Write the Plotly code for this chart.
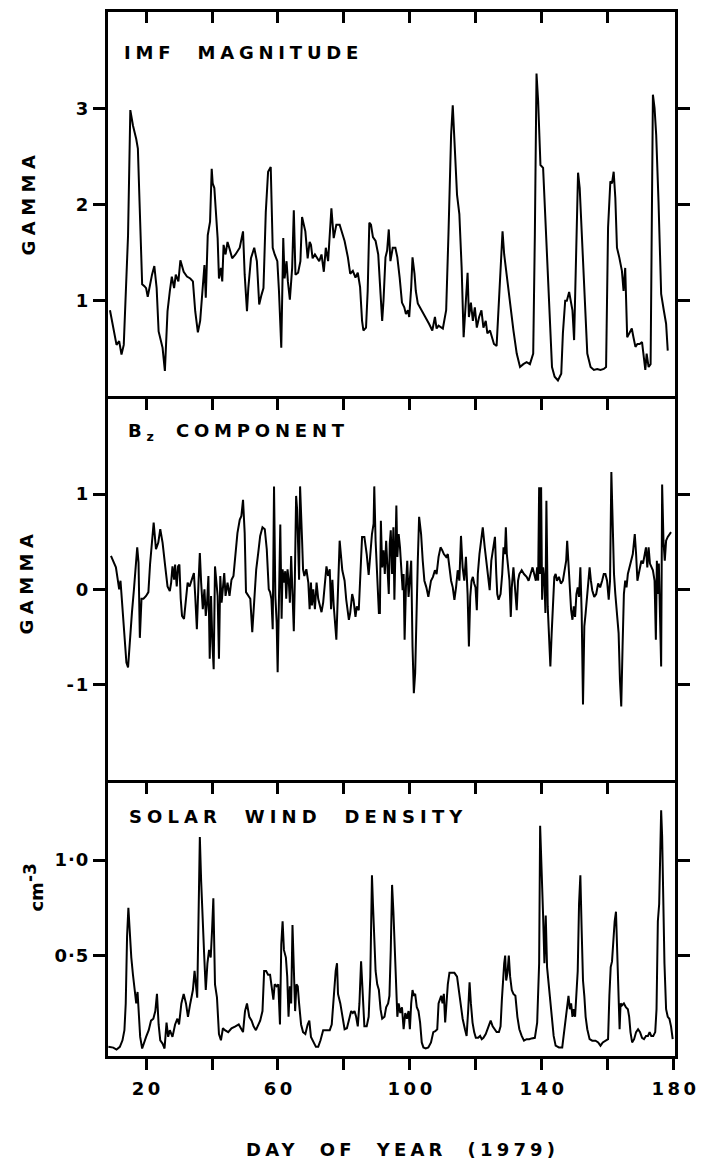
import plotly.graph_objects as go

# ---------------- data (day of year, value) ----------------
imf = [(9.05,0.90),(10.55,0.65),(11.04,0.54),(11.84,0.58),(12.54,0.44),(13.23,0.54),(13.83,0.99),(14.53,1.68),(15.22,2.98),(16.02,2.82),(17.01,2.68),(17.51,2.58),(18.01,2.03),(18.81,1.17),(19.50,1.15),(20.0,1.13),(20.5,1.04),(21.2,1.17),(21.8,1.27),(22.5,1.36),(23.2,1.13),(23.8,0.68),(24.5,0.58),(25.0,0.51),(25.7,0.27),(26.5,0.89),(27.2,1.10),(27.8,1.25),(28.5,1.13),(29.0,1.27),(29.8,1.20),(30.4,1.42),(31.4,1.30),(32.4,1.25),(33.4,1.23),(34.2,1.20),(34.9,0.89),(35.7,0.67),(36.4,0.79),(37.1,1.06),(37.7,1.37),(38.1,1.03),(38.7,1.68),(39.4,1.82),(39.9,2.37),(40.2,2.22),(40.7,2.17),(41.1,1.96),(41.7,1.65),(42.1,1.23),(42.7,1.34),(43.1,1.20),(43.5,1.58),(44.1,1.48),(44.7,1.61),(45.4,1.53),(46.1,1.44),(47.1,1.48),(48.4,1.55),(49.4,1.72),(49.9,1.27),(50.6,0.89),(51.0,1.13),(51.8,1.44),(52.8,1.55),(53.6,1.41),(54.3,0.96),(55.0,1.06),(55.6,1.13),(56.3,1.92),(57.0,2.34),(57.8,2.39),(58.4,1.55),(59.0,1.48),(59.8,1.41),(60.3,1.10),(61.0,0.51),(61.6,1.65),(62.0,1.23),(62.6,1.41),(63.0,1.20),(63.6,1.01),(64.3,1.34),(64.8,1.94),(65.3,1.27),(66.1,1.29),(66.8,1.41),(67.3,1.87),(67.8,1.79),(68.3,1.72),(69.0,1.44),(69.6,1.61),(70.0,1.58),(70.5,1.44),(71.2,1.48),(71.9,1.44),(72.5,1.41),(73.2,1.48),(73.9,1.30),(74.5,1.55),(75.2,1.41),(76.2,1.96),(76.9,1.65),(77.7,1.79),
       (78.7,1.79),(80.2,1.62),(81.2,1.45),(81.9,1.28),(82.7,1.31),(83.5,1.24),(84.2,1.29),(84.9,1.14),(85.5,0.79),(85.9,0.69),(86.7,0.72),(87.2,1.10),(87.7,1.81),(88.2,1.79),(88.8,1.66),(89.6,1.62),(90.4,1.48),(91.1,1.07),(91.6,0.79),(92.0,1.00),(92.6,1.45),(93.1,1.52),(93.6,1.74),(94.1,1.41),(94.8,1.55),(95.6,1.55),(96.2,1.45),(96.9,1.24),(97.6,0.98),(98.3,0.93),(98.8,0.86),(99.4,0.90),(99.8,0.83),(100.4,1.14),(100.8,1.45),(101.4,1.28),(101.8,1.10),(102.4,0.97),(103.6,0.90),(104.6,0.83),(105.8,0.76),(106.8,0.69),(107.6,0.83),(108.1,0.71),(108.7,0.74),(110.0,0.71),(111.0,0.90),(111.7,1.69),(112.5,2.72),(113.0,3.03),(113.5,2.72),(114.3,2.10),(115.0,1.90),(115.7,1.34),(116.3,0.62),(116.9,1.00),(117.5,1.29),(117.9,0.83),(118.5,0.98),(119.1,0.79),(119.7,0.93),(120.3,0.72),(121.0,0.83),(121.7,0.90),(122.3,0.72),(123.0,0.79),(123.5,0.66),(124.3,0.69),(125.0,0.62),(125.5,0.55),(126.3,0.53),(127.0,1.00),(127.7,1.55),(128.1,1.72),(128.6,1.48),(129.4,1.24),(130.4,1.00),(131.4,0.69),(132.4,0.45),(133.4,0.31),(134.4,0.34),(135.4,0.36),(136.4,0.34),(137.4,0.45),(137.9,1.69),(138.4,3.36),(138.9,3.07),(139.6,2.41),(140.4,2.38),(141.1,1.83),(141.9,1.34),(142.4,0.79),(143.1,0.31),(143.9,0.21),(144.9,0.17),(145.9,0.24),(146.4,0.66),(147.1,1.00),(147.6,1.00),(148.3,1.09),(148.8,1.00),(149.3,0.90),(149.8,0.59),(150.3,1.34),(151.0,2.33),(151.5,2.17),(152.0,1.76),(152.5,1.34),(153.1,0.93),(153.8,0.45),(154.8,0.31),(155.8,0.28),(156.8,0.29),(157.8,0.28),(158.8,0.29),(159.5,0.31),(160.1,1.76),(160.8,2.24),(161.3,2.22),(161.8,2.34),(162.3,2.07),(162.8,1.55),(163.5,1.45),(164.3,1.31),(164.8,1.10),(165.3,1.34),(165.9,0.62),(166.5,0.66),(167.3,0.71),(167.8,0.62),(168.4,0.52),(169.0,0.55),(169.7,0.55),(170.4,0.57),(171.0,0.41),(171.4,0.28),(171.8,0.45),(172.4,0.31),(173.0,0.34),(173.7,3.14),(174.2,3.00),(174.7,2.72),(175.4,2.03),(176.2,1.07),(177.0,0.90),(177.7,0.76),(178.2,0.48)]

bz = [(9.35,0.35),(10.05,0.30),(10.85,0.23),(11.54,0.07),(11.84,0.00),(12.24,0.09),(12.84,-0.21),(13.53,-0.52),(14.03,-0.77),(14.53,-0.82),(15.02,-0.56),(15.72,-0.24),(16.32,0.00),(16.82,0.28),(17.31,0.44),(17.71,0.28),(18.11,-0.51),(18.61,-0.10),(19.2,-0.10),(20.0,-0.07),(20.7,-0.03),(21.2,0.26),(21.8,0.52),(22.3,0.70),(23.0,0.42),(23.7,0.49),(24.3,0.63),(25.0,0.49),(25.8,0.24),(26.5,0.03),(27.2,-0.02),(27.6,0.07),(28.0,0.24),(28.5,0.10),(28.8,0.26),(29.3,0.03),(29.7,0.24),(30.1,0.26),(30.5,-0.10),(30.9,-0.28),(31.5,-0.31),(32.1,-0.07),(32.6,0.07),(33.2,0.03),(33.9,0.10),(34.5,0.17),(34.9,-0.07),(35.4,-0.42),(35.9,0.07),(36.3,0.38),(36.7,0.07),(37.2,-0.21),(37.7,0.00),(38.1,-0.28),(38.5,-0.14),(38.9,0.14),(39.3,-0.73),(39.7,-0.07),(40.1,-0.56),(40.5,-0.84),(40.9,0.24),(41.3,0.07),(41.7,-0.07),(42.1,-0.73),(42.5,0.14),(42.9,-0.14),(43.3,0.07),(43.7,0.17),(44.1,-0.07),(44.7,0.07),(45.3,-0.07),(45.9,0.10),(46.5,0.14),(47.1,0.35),(47.7,0.59),(48.4,0.73),(48.9,0.77),(49.4,0.94),(49.9,0.59),(50.3,-0.03),(51.0,-0.07),(51.6,-0.10),(52.2,-0.45),(52.8,-0.10),(53.4,0.21),(54.0,0.38),(54.6,0.56),(55.3,0.65),(56.0,0.63),(56.6,0.42),(57.2,0.00),(57.6,-0.03),(58.0,-0.10),(58.4,-0.42),(58.8,1.08),(59.2,-0.07),(59.6,-0.35),(59.9,-0.87),(60.3,0.00),(60.7,0.68),(61.1,-0.31),(61.4,0.21),(61.8,0.07),(62.2,0.19),(62.5,-0.10),(62.9,0.21),(63.3,0.07),(63.6,-0.14),(64.0,0.35),(64.4,0.00),(64.8,-0.44),(65.1,0.07),(65.5,0.98),(65.8,0.84),(66.1,0.35),(66.4,0.10),(66.7,1.08),(67.0,0.66),(67.3,0.52),(67.6,0.21),(68.0,0.14),(68.6,0.21),(69.2,0.07),(69.6,-0.21),(70.0,0.07),(70.3,-0.17),(70.7,0.00),(71.2,-0.21),(71.7,0.07),(72.2,-0.10),(72.7,-0.17),(73.2,-0.24),(73.7,-0.14),(74.2,0.07),(74.7,0.24),(75.2,0.14),(75.7,0.21),(76.1,-0.21),(76.5,0.10),(76.9,-0.17),(77.3,-0.42),(77.7,-0.53),
      (78.7,0.51),(79.5,0.20),(80.2,0.09),(80.7,-0.11),(81.5,-0.32),(81.9,-0.25),(82.5,-0.05),(82.9,-0.11),(83.5,-0.29),(83.9,-0.18),(84.5,-0.22),(84.9,0.09),(85.5,0.55),(86.2,0.55),(86.9,0.37),(87.5,0.15),(88.0,0.37),(88.5,0.58),(89.0,0.69),(89.2,1.08),(89.6,0.51),(90.1,0.09),(90.6,-0.25),(90.9,-0.25),(91.2,0.72),(91.6,0.23),(92.0,0.41),(92.4,0.16),(92.8,0.51),(93.2,0.23),(93.6,-0.05),(93.9,0.48),(94.2,0.62),(94.6,0.16),(95.0,0.65),(95.3,-0.11),(95.6,0.65),(95.9,0.88),(96.2,0.34),(96.6,0.58),(97.0,0.44),(97.4,0.23),(97.8,-0.01),(98.1,0.16),(98.4,-0.53),(98.8,0.02),(99.2,0.30),(99.6,-0.08),(100.0,0.09),(100.4,0.30),(100.8,-0.60),(101.2,-1.09),(101.6,-0.88),(102.0,-0.18),(102.4,0.30),(102.8,0.76),(103.4,0.58),(103.9,0.30),(104.4,0.09),(105.0,0.02),(105.6,-0.08),(106.4,0.09),(107.0,0.13),(107.6,0.20),(108.1,0.16),(108.7,0.34),(109.3,0.44),(109.8,0.41),(110.3,0.37),(111.0,0.34),(111.5,0.37),(112.0,0.23),(112.5,0.09),(113.0,0.02),(113.5,-0.11),(114.0,0.02),(114.5,0.20),(115.0,0.09),(115.5,0.56),(116.0,0.23),(116.5,0.09),(117.0,0.34),(117.5,-0.05),(117.9,-0.60),(118.3,-0.08),(118.7,0.09),(119.1,0.13),(119.5,0.06),(119.9,0.02),(120.3,-0.22),(120.6,0.16),(121.1,0.37),(121.6,0.51),(122.1,0.65),(122.7,0.44),(123.3,0.23),(123.8,0.09),(124.2,-0.01),(124.7,0.30),(125.3,0.44),(125.8,0.55),(126.2,0.16),(126.5,-0.05),(126.9,-0.11),(127.5,-0.05),(128.0,0.16),(128.4,0.44),(128.8,0.37),(129.1,0.65),(129.4,0.37),(129.8,0.23),(130.2,0.09),(130.6,-0.29),(130.9,0.02),(131.4,0.23),(131.9,0.02),(132.4,-0.22),(132.8,0.09),(133.2,0.16),(133.9,0.20),(134.6,0.16),(135.4,0.13),(136.0,0.09),(136.6,0.16),(137.2,0.23),(137.7,0.16),(138.2,0.09),(138.6,0.23),(138.9,0.09),(139.2,1.07),(139.5,0.16),(139.8,1.07),(140.1,-0.11),(140.4,0.23),(140.8,0.09),(141.1,-0.25),(141.4,0.93),(141.8,-0.18),(142.2,-0.46),(142.6,-0.81),(143.0,-0.46),(143.4,-0.05),(143.8,0.13),(144.2,0.16),(144.6,0.09),(145.2,0.13),(145.8,0.06),(146.4,0.09),(147.0,0.23),(147.4,0.30),(147.7,0.51),(148.1,0.23),(148.5,-0.08),(148.9,-0.22),(149.3,-0.32),(149.7,-0.18),(150.1,-0.29),(150.5,-0.05),(150.9,0.02),(151.3,-0.08),(151.7,0.23),(152.1,-0.25),(152.5,-1.21),(152.9,-0.39),(153.3,-0.25),(153.7,-0.08),(154.1,0.02),(154.5,0.23),(154.9,0.09),(155.3,-0.01),(155.9,-0.08),(156.5,-0.05),(157.1,0.06),(157.7,0.02),(158.3,0.09),(158.8,0.16),(159.3,0.16),(159.8,0.09),(160.3,-0.11),(160.7,0.09),(161.1,1.23),(161.5,0.58),(161.9,0.16),(162.3,-0.05),(162.8,-0.25),(163.3,-0.46),(163.7,-0.95),(164.1,-1.23),(164.5,-0.60),(164.9,-0.05),(165.3,0.09),(165.7,0.02),(166.1,0.16),(166.5,0.23),(167.1,0.30),(167.6,0.37),(168.2,0.58),(168.6,0.37),(169.0,0.09),(169.4,0.16),(169.8,0.23),(170.2,0.30),(170.7,0.27),(171.2,0.37),(171.6,0.44),(172.0,0.23),(172.4,0.44),(172.8,0.27),(173.2,0.23),(173.7,0.20),(174.2,0.09),(174.6,-0.53),(174.9,0.30),(175.2,-0.05),(175.5,0.27),(175.8,-0.25),(176.2,-0.81),(176.5,1.10),(176.9,0.51),(177.3,0.30),(177.7,0.51),(178.2,0.55),(178.7,0.58),(179.2,0.60)]

density = [(8.56,0.023),(10.05,0.019),(11.04,0.009),(12.04,0.023),(12.84,0.057),(13.43,0.11),(13.83,0.25),(14.23,0.60),(14.63,0.75),(15.02,0.63),(15.52,0.49),(16.02,0.40),(16.52,0.32),(17.01,0.25),(17.41,0.31),(17.81,0.21),(18.21,0.075),(18.81,0.014),(19.5,0.057),(20.0,0.075),(20.8,0.11),(21.5,0.16),(22.2,0.17),(22.8,0.21),(23.3,0.30),(23.8,0.14),(24.3,0.057),(25.0,0.04),(25.6,0.014),(26.2,0.15),(26.7,0.075),(27.2,0.11),(28.0,0.075),(28.8,0.14),(29.5,0.17),(30.0,0.14),(30.7,0.25),(31.4,0.30),(32.1,0.25),(32.7,0.18),(33.4,0.25),(34.2,0.32),(34.7,0.42),(35.1,0.34),(35.5,0.28),(35.9,0.70),(36.3,1.12),(36.7,0.89),(37.1,0.68),(37.6,0.51),(38.1,0.32),(38.6,0.46),(39.1,0.53),(39.6,0.49),(40.0,0.63),(40.4,0.80),(40.9,0.35),(41.5,0.28),(42.1,0.09),(42.7,0.057),(43.3,0.12),(43.9,0.11),(44.9,0.10),(45.9,0.12),(47.1,0.13),(48.1,0.14),(49.4,0.10),(50.0,0.21),(50.6,0.25),(51.3,0.18),(52.0,0.16),(52.6,0.13),(53.3,0.11),(53.8,0.13),(54.6,0.16),(55.3,0.21),(55.8,0.42),(56.4,0.42),(57.0,0.40),(57.6,0.40),(58.2,0.32),(58.6,0.27),(59.0,0.35),(59.6,0.34),(60.1,0.35),(60.6,0.14),(61.0,0.56),(61.4,0.68),(61.8,0.53),(62.4,0.49),(62.8,0.39),(63.2,0.18),(63.6,0.34),(64.0,0.25),(64.4,0.66),(64.8,0.42),(65.2,0.21),(65.6,0.35),(66.0,0.34),(66.4,0.25),(67.0,0.14),(67.6,0.10),(68.3,0.09),(69.0,0.14),(69.5,0.16),(70.0,0.075),(70.7,0.05),(71.5,0.023),(72.2,0.023),(72.9,0.057),(73.7,0.11),(74.7,0.11),(75.7,0.11),(76.3,0.14),(76.9,0.28),(77.5,0.42),(77.9,0.46),
           (78.2,0.30),(78.9,0.25),(79.5,0.18),(80.2,0.115),(80.9,0.12),(81.7,0.17),(82.2,0.21),(82.7,0.20),(83.2,0.21),(83.7,0.18),(84.2,0.13),(84.7,0.25),(85.2,0.47),(85.7,0.30),(86.2,0.13),(86.9,0.13),(87.5,0.18),(88.0,0.39),(88.5,0.92),(88.8,0.77),(89.2,0.59),(89.6,0.42),(90.1,0.35),(90.6,0.32),(91.1,0.22),(91.6,0.17),(92.3,0.18),(92.8,0.23),(93.4,0.25),(93.8,0.29),(94.2,0.53),(94.6,0.87),(95.0,0.73),(95.4,0.53),(95.8,0.35),(96.2,0.18),(96.6,0.25),(97.1,0.20),(97.6,0.23),(98.1,0.115),(98.6,0.20),(99.1,0.17),(99.6,0.21),(100.0,0.115),(100.4,0.25),(100.8,0.32),(101.2,0.29),(101.6,0.30),(102.1,0.23),(102.6,0.21),(103.1,0.15),(103.6,0.046),(104.1,0.02),(104.8,0.015),(105.6,0.02),(106.4,0.046),(107.1,0.10),(107.7,0.105),(108.3,0.115),(108.7,0.25),(109.1,0.27),(109.5,0.29),(109.9,0.25),(110.3,0.30),(110.7,0.15),(111.1,0.25),(111.5,0.35),(112.0,0.41),(112.7,0.41),(113.5,0.41),(114.3,0.39),(114.7,0.34),(115.3,0.25),(116.0,0.17),(116.7,0.115),(117.2,0.08),(117.7,0.22),(118.1,0.36),(118.5,0.25),(119.0,0.15),(119.5,0.10),(120.0,0.07),(120.7,0.07),(121.3,0.08),(121.8,0.063),(122.3,0.07),(123.0,0.09),(123.5,0.115),(124.0,0.13),(124.5,0.16),(125.1,0.13),(125.7,0.115),(126.3,0.10),(127.0,0.10),(127.5,0.13),(127.9,0.27),(128.2,0.37),(128.6,0.46),(128.9,0.50),(129.2,0.37),(129.6,0.41),(130.0,0.50),(130.4,0.39),(130.9,0.32),(131.4,0.30),(132.0,0.29),(132.6,0.18),(133.2,0.115),(133.9,0.08),(134.6,0.055),(135.4,0.063),(136.2,0.063),(136.9,0.067),(137.9,0.07),(138.6,0.15),(139.2,0.46),(139.5,1.18),(139.9,1.005),(140.4,0.71),(140.8,0.46),(141.2,0.71),(141.6,0.44),(142.0,0.37),(142.6,0.25),(143.2,0.18),(143.6,0.08),(144.2,0.029),(145.2,0.02),(146.2,0.02),(146.9,0.115),(147.4,0.18),(147.8,0.25),(148.1,0.29),(148.5,0.22),(148.9,0.25),(149.3,0.18),(149.7,0.22),(150.1,0.18),(150.5,0.29),(150.9,0.42),(151.3,0.77),(151.7,0.92),(152.1,0.63),(152.5,0.37),(152.9,0.29),(153.3,0.18),(153.8,0.115),(154.5,0.063),(155.3,0.055),(156.3,0.055),(157.1,0.046),(157.8,0.029),(158.5,0.046),(159.3,0.055),(160.1,0.063),(160.5,0.29),(160.9,0.44),(161.3,0.47),(161.7,0.58),(162.1,0.68),(162.5,0.73),(162.9,0.53),(163.3,0.29),(163.6,0.115),(163.9,0.25),(164.3,0.24),(164.9,0.25),(165.5,0.23),(166.1,0.22),(166.5,0.18),(166.9,0.10),(167.4,0.046),(168.0,0.063),(168.6,0.10),(169.2,0.115),(169.8,0.10),(170.4,0.07),(171.0,0.063),(171.6,0.08),(172.2,0.08),(172.7,0.10),(173.2,0.08),(173.8,0.08),(174.4,0.10),(174.8,0.22),(175.2,0.68),(175.6,0.77),(176.0,1.06),(176.2,1.26),(176.5,1.125),(176.8,0.80),(177.2,0.46),(177.7,0.22),(178.2,0.18),(178.7,0.17),(179.2,0.13),(179.7,0.063)]

x_label_vals = [20, 60, 100, 140, 180]
x_label_text = ["20", "60", "100", "140", "180"]
x_minor_vals = [40, 80, 120, 160]
x_all_vals = [20, 40, 60, 80, 100, 120, 140, 160]
imf_tickvals = [1, 2, 3]
imf_ticktext = ["1", "2", "3"]
bz_tickvals = [-1, 0, 1]
bz_ticktext = ["-1", "0", "1"]
den_tickvals = [0.5, 1.0]
den_ticktext = ["0·5", "1·0"]

X_RANGE = [8.45, 180.4]
FONT = "DejaVu Sans"
NB = "\u00a0"
CLEAR = "rgba(0,0,0,0)"
XTL = 11   # x tick length (part is hidden under the 3 px frame line)
YTL = 12   # y tick length


def spaced(text, px):
    """Bold text with wide letter spacing between characters (not after the last one)."""
    if len(text) < 2:
        return "<b>%s</b>" % text
    return '<b><span style="letter-spacing:%spx">%s</span>%s</b>' % (px, text[:-1], text[-1])


fig = go.Figure()
for data, xa, ya in [(imf, "x", "y"), (bz, "x2", "y2"), (density, "x3", "y3")]:
    days, vals = zip(*data)
    fig.add_trace(go.Scatter(x=list(days), y=list(vals), mode="lines",
                             line=dict(color="black", width=2),
                             xaxis=xa, yaxis=ya, showlegend=False, hoverinfo="skip"))
# empty trace so that the top tick axis of the upper panel is drawn
fig.add_trace(go.Scatter(x=[None], y=[None], xaxis="x4", yaxis="y",
                         showlegend=False, hoverinfo="skip"))

tickfont = dict(family=FONT, size=18, color="black", weight="bold")

base_x = dict(range=X_RANGE, showgrid=False, zeroline=False, showline=True,
              linecolor="black", linewidth=3, mirror=False,
              tickvals=x_all_vals, ticks="outside", ticklen=XTL, tickwidth=2.5,
              tickcolor="black", showticklabels=False, fixedrange=True)
base_y = dict(showgrid=False, zeroline=False, showline=True, linecolor="black",
              linewidth=3, mirror="ticks", ticks="outside", ticklen=YTL,
              tickwidth=2.5, tickcolor="black", tickfont=tickfont,
              ticklabelstandoff=1, fixedrange=True)

D1 = 277 / 1047
D2 = (277 + 385) / 1047

fig.update_layout(
    width=705, height=1169,
    margin=dict(l=108, r=22, t=9, b=113, pad=0),
    paper_bgcolor="white", plot_bgcolor=CLEAR,
    xaxis=dict(base_x, anchor="y", side="bottom", mirror=True),
    xaxis2=dict(base_x, anchor="y2", side="bottom"),
    xaxis3=dict(range=X_RANGE, anchor="y3", side="bottom", showgrid=False,
                zeroline=False, showline=True, linecolor="black", linewidth=3,
                mirror=False, tickvals=x_label_vals,
                ticktext=[spaced(t, 3.5) for t in x_label_text],
                ticks="outside", ticklen=XTL, tickwidth=2.5, tickcolor="black",
                tickfont=tickfont, ticklabelstandoff=3, fixedrange=True,
                minor=dict(tickvals=x_minor_vals, ticks="outside", ticklen=XTL,
                           tickwidth=2.5, tickcolor="black", showgrid=False)),
    xaxis4=dict(range=X_RANGE, overlaying="x", anchor="y", side="top",
                showline=False, showgrid=False, zeroline=False,
                tickvals=x_all_vals, ticks="inside", ticklen=XTL, tickwidth=2.5,
                tickcolor="black", showticklabels=False, fixedrange=True),
    yaxis=dict(base_y, anchor="x", domain=[D2, 1], range=[0.01, 4.0],
               tickvals=imf_tickvals, ticktext=[spaced(t, 3) for t in imf_ticktext]),
    yaxis2=dict(base_y, anchor="x2", domain=[D1, D2], range=[-2.0, 2.03],
                tickvals=bz_tickvals, ticktext=[spaced(t, 2) for t in bz_ticktext]),
    yaxis3=dict(base_y, anchor="x3", domain=[0, D1], range=[-0.025, 1.42],
                tickvals=den_tickvals, ticktext=[spaced(t, 1) for t in den_ticktext]),
)

ann_font = dict(family=FONT, size=18, color="black", weight="bold")
SP = 4.8
annotations = [
    dict(text=spaced("IMF" + NB * 2 + "MAGNITUDE", SP), x=0.024, y=0.9615,
         xanchor="left", yanchor="middle"),
    dict(text='<b><span style="letter-spacing:%spx">B</span><sub>z</sub>'
              '<span style="letter-spacing:%spx">%sCOMPONEN</span>T</b>' % (SP, SP, NB * 2),
         x=0.031, y=0.611, xanchor="left", yanchor="top"),
    dict(text=spaced("SOLAR" + NB * 2 + "WIND" + NB * 2 + "DENSITY", 5.1), x=0.033, y=0.2292,
         xanchor="left", yanchor="middle"),
    dict(text=spaced("GAMMA", 5.5), x=-0.1409, y=0.8147, xanchor="center",
         yanchor="middle", textangle=-90),
    dict(text=spaced("GAMMA", 5.5), x=-0.1443, y=0.4518, xanchor="center",
         yanchor="middle", textangle=-90),
    dict(text='<b>cm<sup><span style="font-size:17px">-3</span></sup></b>', x=-0.1304, y=0.1614,
         xanchor="center", yanchor="middle", textangle=-90),
    dict(text=spaced("DAY" + NB * 2 + "OF" + NB * 2 + "YEAR" + NB * 2 + "(1979)", 4.2),
         x=0.5165, y=-0.0898, xanchor="center", yanchor="middle"),
]
for a in annotations:
    a.update(xref="paper", yref="paper", showarrow=False, font=ann_font)
fig.update_layout(annotations=annotations)

fig.write_html("out.html")
